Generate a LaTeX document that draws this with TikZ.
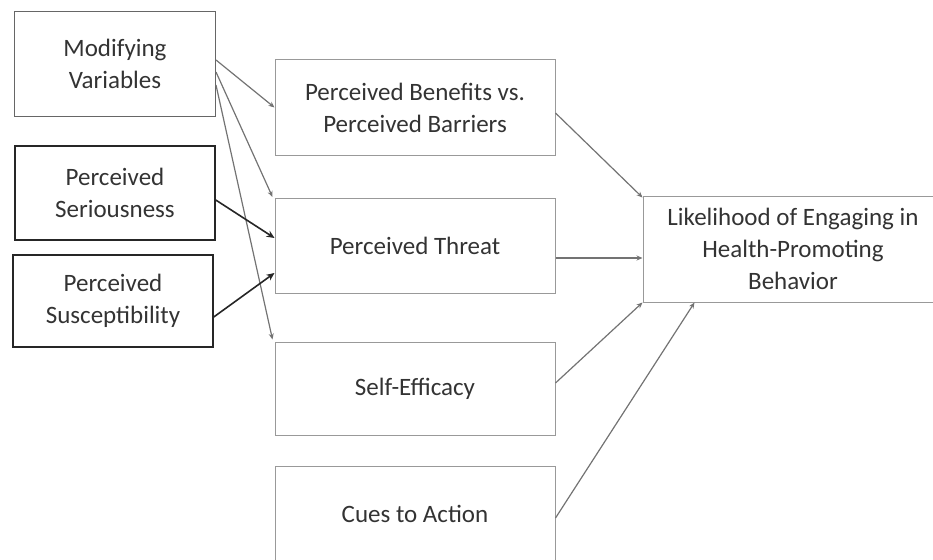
\documentclass[tikz,border=0pt]{standalone}
\usepackage{fontspec}
\setmainfont{Carlito}
\usetikzlibrary{arrows.meta}
\begin{document}
\begin{tikzpicture}[x=1pt,y=-1pt,
  lbox/.style={draw=black!40, line width=1pt, align=center, inner sep=0pt, font=\fontsize{25}{32}\selectfont, text=black!80},
  mbox/.style={lbox, draw=black!60},
  dbox/.style={lbox, draw=black!85, line width=1.5pt},
  conn/.style={draw=black!55, line width=1.2pt, -{Stealth[length=6pt,width=5pt]}},
  dconn/.style={draw=black!85, line width=1.6pt, -{Stealth[length=8pt,width=7pt]}}
]
\useasboundingbox (0,0) rectangle (933,559);
\node[mbox, minimum width=201pt, minimum height=105pt] (mv) at (115,64) {Modifying\\Variables};
\node[dbox, minimum width=200pt, minimum height=94pt] (ps) at (115,193) {Perceived\\Seriousness};
\node[dbox, minimum width=200pt, minimum height=92pt] (pu) at (113,301) {Perceived\\Susceptibility};
\node[lbox, minimum width=280pt, minimum height=95pt] (pb) at (415,107.5) {Perceived Benefits vs.\\Perceived Barriers};
\node[lbox, minimum width=280pt, minimum height=95pt] (pt) at (415,246) {Perceived Threat};
\node[lbox, minimum width=280pt, minimum height=93pt] (se) at (415,388.5) {Self-Efficacy};
\node[lbox, minimum width=280pt, minimum height=95pt] (ca) at (415,514) {Cues to Action};
\node[lbox, minimum width=300pt, minimum height=106pt] (lh) at (793,249) {Likelihood of Engaging in\\Health-Promoting\\Behavior};
% modifying variables
\draw[conn] ([yshift=4pt]mv.east) -- (pb.west);
\draw[conn] ([yshift=-8pt]mv.east) -- ([xshift=-2pt,yshift=1pt]pt.north west);
\draw[conn] ([yshift=-21pt]mv.east) -- ([xshift=-2pt,yshift=2pt]se.north west);
% seriousness, susceptibility
\draw[dconn] ([yshift=-7pt]ps.east) -- ([yshift=8pt]pt.west);
\draw[dconn] ([yshift=-16pt]pu.east) -- ([yshift=-27pt]pt.west);
% to likelihood
\draw[conn] ([yshift=-5.5pt]pb.east) -- ([yshift=-2pt]lh.north west);
\draw[conn] ([yshift=-12pt]pt.east) -- ([yshift=-9pt]lh.west);
\draw[conn] ([yshift=5.5pt]se.east) -- (lh.south west);
\draw[conn] ([yshift=-4pt]ca.east) -- ([xshift=52pt]lh.south west);
\end{tikzpicture}
\end{document}
